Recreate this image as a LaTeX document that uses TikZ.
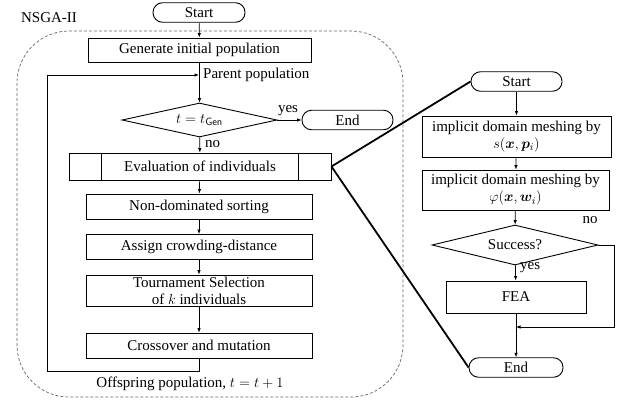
\documentclass[tikz,border=0pt]{standalone}
\usepackage{fontspec}
\setmainfont{Liberation Serif}
\usepackage{bm}
\usetikzlibrary{shapes.geometric,arrows.meta}
\begin{document}
\begin{tikzpicture}[x=1pt,y=-1pt,
  every node/.style={font=\fontsize{15}{17}\selectfont},
  box/.style={draw,line width=0.9pt,inner sep=1pt,align=center},
  term/.style={draw,line width=0.9pt,rounded corners=9.5pt,minimum height=19.5pt,inner sep=0pt},
  dec/.style={draw,line width=0.9pt,shape=diamond,inner sep=0pt},
  arr/.style={line width=0.7pt,-{Latex[length=4.5pt,width=3.5pt]}},
  link/.style={line width=1.8pt},
  lbl/.style={inner sep=0pt}]
\useasboundingbox (0,0) rectangle (628,399);
% region
\draw[gray!80!black,line width=0.7pt,dash pattern=on 3pt off 2pt,rounded corners=52pt] (17,31) rectangle (403,397);
\node[lbl] (nsga) at (49,18) {NSGA-II};
% left chart
\node[term,minimum width=92pt] (s1) at (199,12.5) {Start};
\node[box,minimum width=223pt,minimum height=24pt] (gen) at (199.5,50) {Generate initial population};
\coordinate (pp) at (199,75);
\node[lbl,anchor=west] (ptxt) at (203,75) {Parent population};
\node[dec,aspect=4.6,minimum width=155pt,minimum height=34pt] (d1) at (199.5,120) {$t=t_{\mathsf{Gen}}$};
\node[term,minimum width=91pt] (e1) at (347.5,120) {End};
\node[lbl] (yes1) at (288,111) {yes};
\node[lbl,anchor=west] (no1) at (205,144) {no};
\node[box,minimum width=262pt,minimum height=27pt] (ev) at (200,166.5) {Evaluation of individuals};
\draw[line width=0.9pt] ([xshift=33pt]ev.north west) -- ([xshift=33pt]ev.south west);
\draw[line width=0.9pt] ([xshift=-33pt]ev.north east) -- ([xshift=-33pt]ev.south east);
\node[box,minimum width=226pt,minimum height=25pt] (nd) at (199,206.5) {Non-dominated sorting};
\node[box,minimum width=226pt,minimum height=25pt] (cd) at (199,247) {Assign crowding-distance};
\node[box,minimum width=226pt,minimum height=31pt] (ts) at (199,290.5) {Tournament Selection\\of $k$ individuals};
\node[box,minimum width=226pt,minimum height=25pt] (cm) at (199,345.5) {Crossover and mutation};
\node[lbl] (off) at (190,384) {Offspring population, $t=t+1$};
\coordinate (lb) at (199,371);
\coordinate (ll) at (47,371);
\coordinate (lt) at (47,75);
\draw[arr] (s1) -- (gen);
\draw[arr] (gen) -- (d1);
\draw[arr] (d1) -- (e1);
\draw[arr] (d1) -- (ev);
\draw[arr] (ev) -- (nd);
\draw[arr] (nd) -- (cd);
\draw[arr] (cd) -- (ts);
\draw[arr] (ts) -- (cm);
\draw[arr] (cm.south) -- (lb) -- (ll) -- (lt) -- (pp);
% right chart
\node[term,minimum width=91pt] (s2) at (516.5,81.5) {Start};
\node[box,minimum width=189pt,minimum height=41pt] (m1) at (516.5,136.5) {implicit domain meshing by\\$s(\bm{x},\bm{p}_i)$};
\node[box,minimum width=187pt,minimum height=40pt] (m2) at (515.5,190) {implicit domain meshing by\\$\varphi(\bm{x},\bm{w}_i)$};
\node[dec,aspect=4.15,minimum width=166pt,minimum height=40pt] (d2) at (515,245) {Success?};
\node[lbl] (no2) at (590,220) {no};
\node[lbl,anchor=west] (yes2) at (520,268) {yes};
\node[box,minimum width=140pt,minimum height=32pt] (fea) at (516,297) {FEA};
\node[term,minimum width=94pt] (e2) at (516,367.5) {End};
\coordinate (nr) at (614,245);
\coordinate (mg) at (516,327);
\draw[arr] (s2) -- (m1);
\draw[arr] (m1) -- (m2);
\draw[arr] (m2) -- (d2);
\draw[arr] (d2) -- (fea);
\draw[arr] (fea) -- (e2);
\draw[arr] (d2.east) -- (nr) |- (mg);
% links
\draw[link] (ev.east) -- (s2.west);
\draw[link] (ev.east) -- (e2.west);
\end{tikzpicture}
\end{document}
